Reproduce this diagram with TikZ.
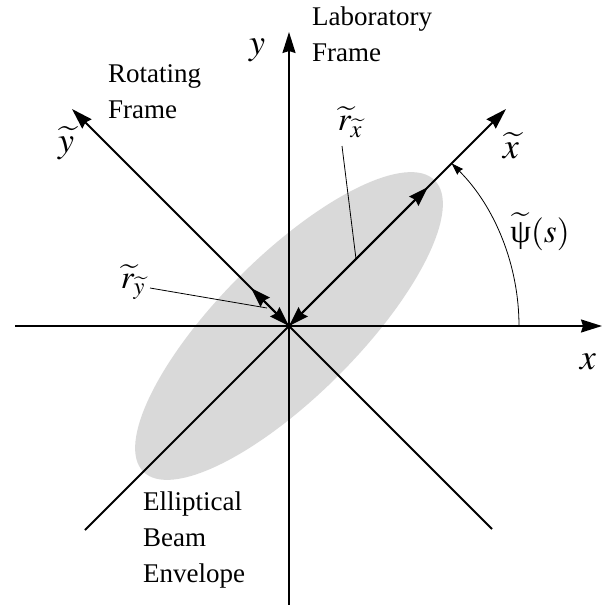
\documentclass[tikz,border=0pt]{standalone}
\usepackage{mathptmx}
\usepackage{fontspec}
\setmainfont{Liberation Serif}
\usetikzlibrary{arrows.meta}
\begin{document}
\begin{tikzpicture}[x=1pt,y=-1pt,
  axis/.style={line width=1.9pt},
  bigtip/.style={-{Stealth[length=21pt,width=13pt,inset=2pt]}},
  dbl/.style={line width=1.9pt,{Stealth[length=20pt,width=13pt,inset=2pt]}-{Stealth[length=20pt,width=13pt,inset=2pt]}},
  lead/.style={line width=0.8pt},
  anglearc/.style={line width=0.8pt,-{Stealth[length=12pt,width=8pt,inset=1pt]}},
  txt/.style={font=\fontsize{27}{36}\selectfont, align=left, inner sep=0pt},
  mth/.style={font=\fontsize{36}{40}\selectfont, inner sep=0pt},
  mths/.style={font=\fontsize{33}{38}\selectfont, inner sep=0pt}]
\useasboundingbox (0,0) rectangle (605,605);
\coordinate (O) at (289,326);
% ellipse
\fill[black!15, rotate around={45:(O)}] (O) ellipse[x radius=206, y radius=70];
% axes
\coordinate (xl) at (15,326);
\coordinate (xr) at (602,326);
\coordinate (yb) at (289,612);
\coordinate (yt) at (289,32);
\coordinate (xtb) at (85,530);
\coordinate (xtt) at (506,109);
\coordinate (ytt) at (72,109);
\coordinate (ytb) at (492,529);
\draw[axis,bigtip] (xl) -- (xr);
\draw[axis,bigtip] (yb) -- (yt);
\draw[axis,bigtip] (xtb) -- (xtt);
\draw[axis,bigtip] (ytb) -- (ytt);
% radii arrows
\coordinate (rx) at (428,187);
\coordinate (ry) at (251,288);
\draw[dbl] (O) -- (rx);
\draw[dbl] (O) -- (ry);
% angle arc
\coordinate (a0) at (519,326);
\draw[anglearc] (a0) arc[start angle=0, end angle=-45, radius=230] coordinate (a1);
% labels
\node[mth] (ylab) at (257,50) {$y$};
\node[mth] (xlab) at (588,362) {$x$};
\node[mth] (xtlab) at (511,146) {$\widetilde{x}$};
\node[mth] (ytlab) at (66,143) {$\widetilde{y}$};
\node[mths] (psilab) at (540,232) {$\widetilde{\mbox{ψ}}(s)$};
\node[mths] (rxlab) at (350,122) {$\widetilde{r}_{\widetilde{x}}$};
\node[mths] (rylab) at (133,282) {$\widetilde{r}_{\widetilde{y}}$};
\coordinate (rxfoot) at (356,259);
\coordinate (ryfoot) at (267,308);
\draw[lead] (342,146) coordinate (rxs) -- (rxfoot);
\draw[lead] (150,288) coordinate (rys) -- (ryfoot);
\node[txt,anchor=north west] (lab) at (312,7) {Laboratory\\Frame};
\node[txt,anchor=north west] (rot) at (108,64) {Rotating\\Frame};
\node[txt,anchor=north west] (env) at (143,492) {Elliptical\\Beam\\Envelope};
\end{tikzpicture}
\end{document}
